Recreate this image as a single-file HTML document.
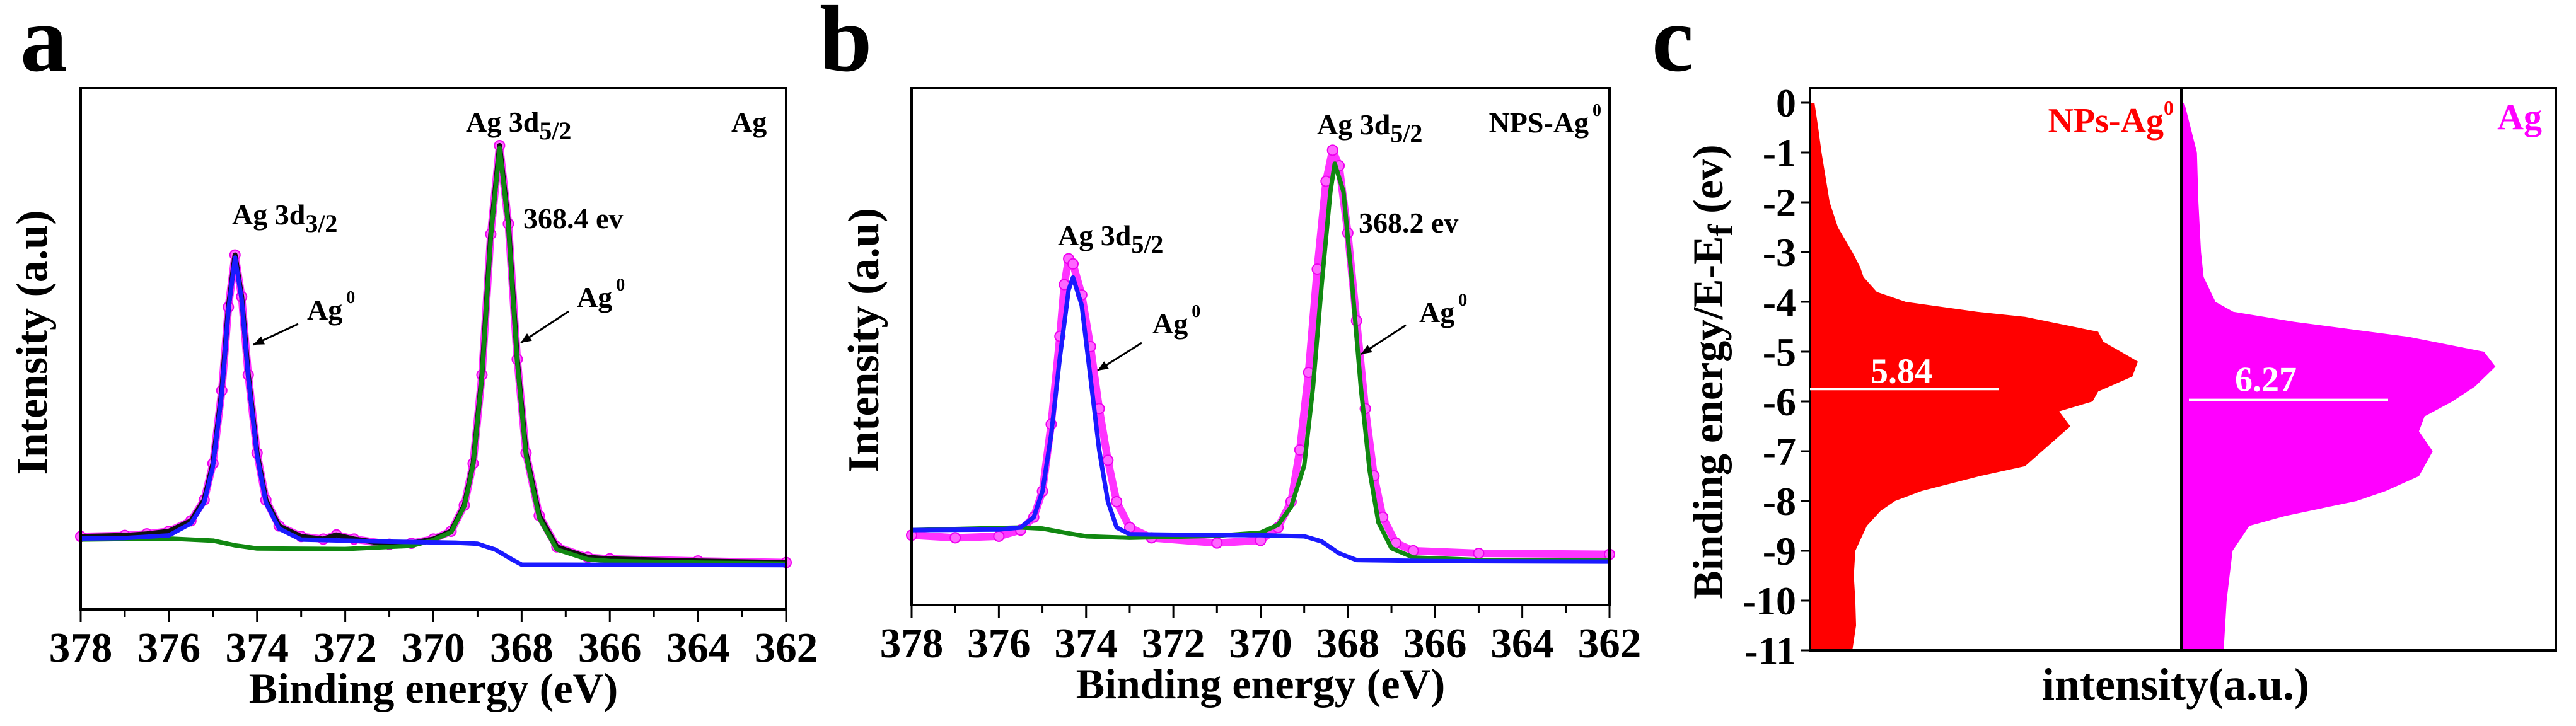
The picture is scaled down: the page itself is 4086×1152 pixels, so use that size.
<!DOCTYPE html>
<html><head><meta charset="utf-8"><style>
html,body{margin:0;padding:0;background:#fff;}
svg{display:block;}
text{font-family:"Liberation Serif",serif;font-weight:bold;}
</style></head><body>
<svg id="fig" width="4086" height="1152" viewBox="0 0 4086 1152" xmlns="http://www.w3.org/2000/svg"></svg>
<script>
// ---- Panel a data (binding energy eV, intensity 0-100 of plot box) ----
const aEnvE=[378,377,376.5,376,375.5,375.2,375,374.8,374.65,374.5,374.35,374.2,374,373.8,373.5,373,372.5,372.2,371.8,371,370.5,370,369.6,369.3,369.1,368.9,368.7,368.5,368.3,368.1,367.9,367.6,367.2,366.5,366,364,362];
const aEnvI=[14,14.2,14.5,15,17,21,28,42,58,68,60,45,30,21,16,14,13.5,14.3,13.5,12.5,12.7,13.5,15,20,28,45,72,89,74,48,30,18,12,10,9.7,9.3,9];
const aBlueE=[378,377,376,375.5,375.2,375,374.8,374.65,374.5,374.35,374.2,374,373.8,373.5,373,371,369.5,369,368.6,368.2,368,362];
const aBlueI=[13.6,13.7,14.2,16.5,20.5,27.5,41.5,57.5,67.5,59.5,44.5,29.5,20.5,15.5,13.4,13,12.8,12.6,11.5,9.5,8.6,8.5];
const aGreenE=[378,376,375,374.5,374,372,370.5,370,369.6,369.3,369.1,368.9,368.7,368.5,368.3,368.1,367.9,367.6,367.2,366.5,366,364,362];
const aGreenI=[13.4,13.6,13.2,12.3,11.7,11.6,12.2,13.3,14.8,19.8,27.8,44.8,71.5,88.5,73.5,47.5,29.5,17.5,11.5,9.6,9.3,9,8.8];
// ---- Panel b data ----
const bDotE=[378,377,376,375.5,375.2,375,374.8,374.6,374.5,374.4,374.3,374.1,373.9,373.7,373.5,373.3,373,372.5,371,370,369.6,369.3,369.1,368.9,368.7,368.5,368.35,368.2,368,367.8,367.6,367.4,367.2,366.9,366.5,365,362];
const bDotI=[13.5,13,13.3,14.5,17,22,35,52,62,67,66,60,50,38,28,20,15,13,12,12.5,15,20,30,45,65,82,88,85,72,55,38,25,17,12,10.5,10,9.8];
const bBlueE=[378,376,375.5,375.2,375,374.8,374.6,374.4,374.3,374.1,373.9,373.7,373.5,373.3,373,372,370,369,368.6,368.2,367.8,366,362];
const bBlueI=[14.5,14.6,15,17,22,33,48,61,63.4,58,44,30,20,15,13.7,13.6,13.5,13.3,12.3,10,8.7,8.5,8.4];
const bGreenE=[378,375.5,375,374.5,374,373,371,370,369.6,369.3,369,368.8,368.6,368.4,368.3,368.1,367.9,367.7,367.5,367.3,367,366.5,365,362];
const bGreenI=[14.5,15,14.8,14,13.3,13,13.4,14,15.5,19,27,42,62,80,85.4,80,62,42,26,16,11,9.2,8.7,8.6];
// ---- Panel c data (energy E-Ef, intensity 0-100 of half panel) ----
const cRedE=[0,-0.5,-1,-1.5,-2,-2.5,-3,-3.3,-3.5,-3.8,-4,-4.2,-4.3,-4.6,-4.8,-5,-5.2,-5.5,-5.8,-6,-6.2,-6.5,-7,-7.3,-7.5,-7.8,-8,-8.2,-8.5,-9,-9.5,-10,-10.5,-11];
const cRedI=[1.2,2.2,3.1,4.2,5.3,7.5,11.4,13.5,14.4,18,25.8,45,57.9,77.6,79,83.7,88.3,86.8,77.6,76.1,67.1,70.1,62.5,57.9,45.7,30,22.9,19,15.3,12.2,11.8,12.2,12.4,11.4];
const cMagE=[0,-0.5,-1,-2,-3,-3.5,-4,-4.2,-4.4,-4.7,-5,-5.3,-5.7,-6,-6.3,-6.6,-7,-7.5,-7.8,-8,-8.3,-8.5,-9,-10,-11];
const cMagI=[0.8,2.5,4.2,4.6,5.3,6,9.2,14,30.4,61,81.5,84.6,79.1,73,65.5,64,67.7,64,55,47.2,28,18.3,13.8,12.2,11.4];
const xTicks=[378,376,374,372,370,368,366,364,362];
const cTicks=[0,-1,-2,-3,-4,-5,-6,-7,-8,-9,-10,-11];

const NS="http://www.w3.org/2000/svg";
const svg=document.getElementById('fig');
function mk(tag,attrs,parent){const e=document.createElementNS(NS,tag);for(const k in attrs)e.setAttribute(k,attrs[k]);(parent||svg).appendChild(e);return e;}
function txt(x,y,s,size,opts){const t=mk('text',Object.assign({x:x,y:y,'font-size':size},opts||{}));t.textContent=s;return t;}

function xpsPanel(p){
  const sx=e=>p.L+(378-e)/16*(p.R-p.L);
  const sy=v=>p.B-v/100*(p.B-p.T);
  const g=mk('g',{});
  
  
  function line(E,I,color,w,name){
    const pts=E.map((e,i)=>sx(e)+','+sy(I[i])).join(' ');
    const l=mk('polyline',{points:pts,fill:'none',stroke:color,'stroke-width':w,'stroke-linejoin':'round'},g);
    
    
  }
  line(p.dotE,p.dotI,'#ff33ff',12,p.id+'-raw-data-band');
  p.dotE.forEach((e,i)=>{
    const c=mk('circle',{cx:sx(e),cy:sy(p.dotI[i]),r:8,fill:'#ff66ff',stroke:'#ee00ee','stroke-width':2},g);
    
    
  });
  if(p.envE) line(p.envE,p.envI,'#111',8,p.id+'-envelope');
  line(p.greenE,p.greenI,'#118811',7,p.id+'-fit-3d52');
  line(p.blueE,p.blueI,'#1a1aff',7,p.id+'-fit-3d32');
  const fr=mk('rect',{x:p.L,y:p.T,width:p.R-p.L,height:p.B-p.T,fill:'none',stroke:'#000','stroke-width':4},g);
  
  
  for(let e=378;e>=362;e--){
    mk('line',{x1:sx(e),x2:sx(e),y1:p.B,y2:p.B+(e%2===0?20:12),stroke:'#000','stroke-width':3},g);
  }
  xTicks.forEach(e=>{
    const t=txt(sx(e),p.B+83,String(e),67,{'text-anchor':'middle'});
    
    
  });
  const xt=txt((p.L+p.R)/2,p.B+148,'Binding energy (eV)',68,{'text-anchor':'middle'});
  
  
  const yt=txt(0,0,'Intensity (a.u)',70,{'text-anchor':'middle',transform:'translate('+p.yx+','+((p.T+p.B)/2-10)+') rotate(-90)'});
  
  
  const pl=txt(p.labX,112,p.id,150,{});
  
  
}

xpsPanel({id:'a',L:128,R:1247,T:140,B:967,yx:74,labX:32,dotE:aEnvE,dotI:aEnvI,envE:aEnvE,envI:aEnvI,blueE:aBlueE,blueI:aBlueI,greenE:aGreenE,greenI:aGreenI});
xpsPanel({id:'b',L:1446,R:2553,T:140,B:960,yx:1393,labX:1300,dotE:bDotE,dotI:bDotI,envE:null,blueE:bBlueE,blueI:bBlueI,greenE:bGreenE,greenI:bGreenI});

function annot(x,y,main,sub,sup,name,anchor){
  const t=txt(x,y,main,46,anchor?{'text-anchor':anchor}:{});
  if(sub){const s=mk('tspan',{'font-size':40,dy:12},t);s.textContent=sub;}
  if(sup){const s=mk('tspan',{'font-size':28,dy:-26,dx:6},t);s.textContent=sup;}
  
  
}
function arrow(x1,y1,x2,y2,name){
  const a=Math.atan2(y2-y1,x2-x1),h=18;
  const g=mk('g',{});
  
  
  mk('line',{x1:x1,y1:y1,x2:x2,y2:y2,stroke:'#000','stroke-width':3},g);
  mk('polygon',{points:x2+','+y2+' '+(x2-h*Math.cos(a-0.4))+','+(y2-h*Math.sin(a-0.4))+' '+(x2-h*Math.cos(a+0.4))+','+(y2-h*Math.sin(a+0.4)),fill:'#000'},g);
}
annot(739,209,'Ag  3d','5/2',null,'a-peak-label-3d52');
annot(1160,209,'Ag',null,null,'a-sample-label');
annot(368,356,'Ag  3d','3/2',null,'a-peak-label-3d32');
annot(830,362,'368.4 ev',null,null,'a-energy-label');
annot(487,507,'Ag',null,'0','a-ag0-label-left');
arrow(473,514,402,547,'a-arrow-left');
annot(915,487,'Ag',null,'0','a-ag0-label-right');
arrow(902,494,826,544,'a-arrow-right');

annot(2089,213,'Ag  3d','5/2',null,'b-peak-label-right');
annot(2540,210,'NPS-Ag',null,'0','b-sample-label','end');
annot(1678,389,'Ag  3d','5/2',null,'b-peak-label-left');
annot(2155,369,'368.2 ev',null,null,'b-energy-label');
annot(1828,529,'Ag',null,'0','b-ag0-label-left');
arrow(1811,544,1741,588,'b-arrow-left');
annot(2251,511,'Ag',null,'0','b-ag0-label-right');
arrow(2230,516,2159,562,'b-arrow-right');

// ---- Panel c ----
(function(){
  const L=2871,R=4054,T=140,B=1032,M=3460,Y0=163;
  const sy=e=>Y0+(-e)/11*(B-Y0);
  const hw=589;
  const sxr=v=>L+v/100*hw, sxm=v=>M+v/100*hw;
  function fill(E,I,sx,x0,color,name){
    let d='M'+x0+','+sy(E[0]);
    E.forEach((e,i)=>{d+=' L'+sx(I[i])+','+sy(e);});
    d+=' L'+sx(I[I.length-1])+','+B+' L'+x0+','+B+' Z';
    const p=mk('path',{d:d,fill:color});
    
    
  }
  fill(cRedE,cRedI,sxr,L,'#ff0000','c-nps-ag-valence-band');
  fill(cMagE,cMagI,sxm,M,'#ff00ff','c-ag-valence-band');
  const fr=mk('rect',{x:L,y:T,width:R-L,height:B-T,fill:'none',stroke:'#000','stroke-width':4});
  
  
  const dv=mk('line',{x1:M,x2:M,y1:T,y2:B,stroke:'#000','stroke-width':4});
  
  
  cTicks.forEach(v=>{
    mk('line',{x1:L,x2:L-14,y1:sy(v),y2:sy(v),stroke:'#000','stroke-width':3});
    const t=txt(L-22,sy(v)+22,String(v),64,{'text-anchor':'end'});
    
    
  });
  const wl1=mk('line',{x1:L,x2:3171,y1:sy(-5.75),y2:sy(-5.75),stroke:'#fff','stroke-width':4});
  
  
  const t1=txt(3016,sy(-5.75)-10,'5.84',56,{'text-anchor':'middle',fill:'#fff'});
  
  
  const wl2=mk('line',{x1:3472,x2:3788,y1:sy(-5.97),y2:sy(-5.97),stroke:'#fff','stroke-width':4});
  
  
  const t2=txt(3594,sy(-5.97)-14,'6.27',56,{'text-anchor':'middle',fill:'#fff'});
  
  
  const lr=txt(3448,210,'NPs-Ag',56,{fill:'#ff0000','text-anchor':'end'});
  const sp=mk('tspan',{'font-size':32,dy:-28},lr);sp.textContent='0';
  
  
  const lm=txt(4032,205,'Ag',58,{fill:'#ff00ff','text-anchor':'end'});
  
  
  const xt=txt(3451,1110,'intensity(a.u.)',72,{'text-anchor':'middle'});
  
  
  const yt=txt(0,0,'Binding energy/E-E',68,{'text-anchor':'middle',transform:'translate(2732,590) rotate(-90)'});
  const ys=mk('tspan',{'font-size':56,dy:16},yt);ys.textContent='f';
  const yr=mk('tspan',{dy:-16},yt);yr.textContent=' (ev)';
  
  
  const pl=txt(2620,112,'c',150,{});
  
  
})();
</script>
</body></html>
